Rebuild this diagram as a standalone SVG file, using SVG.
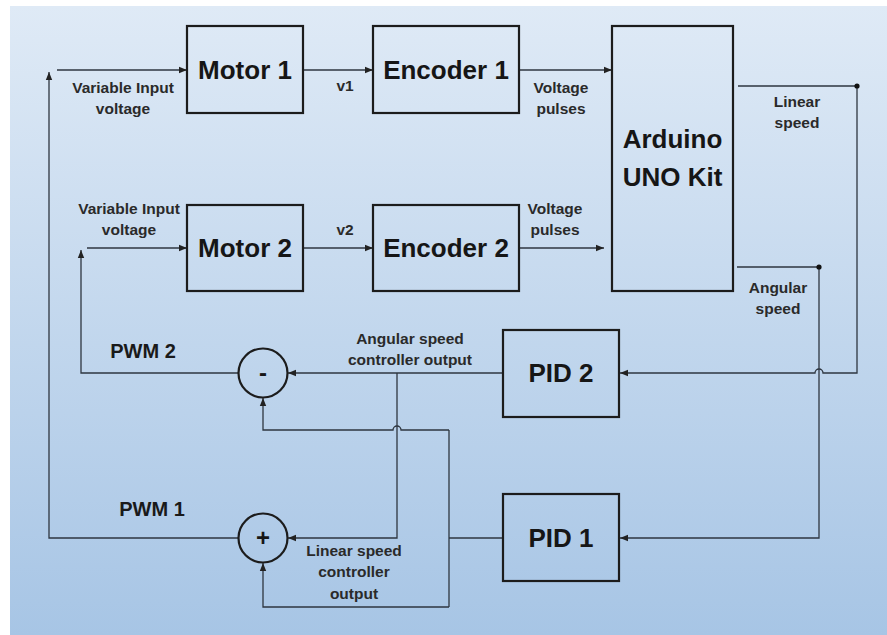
<svg xmlns="http://www.w3.org/2000/svg" width="887" height="635" viewBox="0 0 887 635">
<defs>
<linearGradient id="bg" x1="0" y1="0" x2="0" y2="1">
<stop offset="0" stop-color="#dfeaf6"/>
<stop offset="1" stop-color="#a7c5e5"/>
</linearGradient>
<marker id="ah" markerUnits="userSpaceOnUse" markerWidth="9" markerHeight="8" refX="8" refY="4" orient="auto">
<path d="M0,0.8 L8,4 L0,7.2 Z" fill="#222"/>
</marker>
<style>
.box{fill:none;stroke:#1c1c1c;stroke-width:2.2}
.ln{fill:none;stroke:#2e3640;stroke-width:1.3}
.big{font-family:"Liberation Sans",Arial,sans-serif;font-weight:bold;font-size:26px;fill:#161616;text-anchor:middle}
.lbl{font-family:"Liberation Sans",Arial,sans-serif;font-weight:bold;font-size:15.5px;fill:#2a2a2a;text-anchor:middle}
.pwm{font-family:"Liberation Sans",Arial,sans-serif;font-weight:bold;font-size:20px;fill:#1a1a1a;text-anchor:middle}
.dot{fill:#111}
</style>
</defs>
<rect x="10" y="6" width="877" height="629" fill="url(#bg)"/>

<g id="connectors">
<path class="ln" d="M239,538 H49 V72" marker-end="url(#ah)"/>
<path class="ln" d="M57,70 H187" marker-end="url(#ah)"/>
<path class="ln" d="M239,373 H81 V250" marker-end="url(#ah)"/>
<path class="ln" d="M87,248 H187" marker-end="url(#ah)"/>
<path class="ln" d="M303,70 H373" marker-end="url(#ah)"/>
<path class="ln" d="M303,248 H373" marker-end="url(#ah)"/>
<path class="ln" d="M519,70 H612" marker-end="url(#ah)"/>
<path class="ln" d="M519,248 H604" marker-end="url(#ah)"/>
<path class="ln" d="M738,86 H857 V373 H823 A4,4 0 0 0 815,373 H620" marker-end="url(#ah)"/>
<circle class="dot" cx="857" cy="86" r="2.6"/>
<path class="ln" d="M737,267 H819 V538 H620" marker-end="url(#ah)"/>
<circle class="dot" cx="819" cy="267" r="2.6"/>
<path class="ln" d="M503,373 H288" marker-end="url(#ah)"/>
<path class="ln" d="M397,373 V538 H288" marker-end="url(#ah)"/>
<path class="ln" d="M503,538 H449"/>
<path class="ln" d="M449,430 V607"/>
<path class="ln" d="M449,430 H401 A4,4 0 0 0 393,430 H263 V398" marker-end="url(#ah)"/>
<path class="ln" d="M449,607 H263 V563" marker-end="url(#ah)"/>
</g>

<g id="motor1"><rect class="box" x="187" y="26" width="116" height="87"/><text class="big" x="245" y="79">Motor 1</text></g>
<g id="encoder1"><rect class="box" x="373" y="26" width="146" height="87"/><text class="big" x="446" y="79">Encoder 1</text></g>
<g id="arduino"><rect class="box" x="612" y="26" width="121" height="265"/><text class="big" x="672.5" y="148">Arduino</text><text class="big" x="672.5" y="186">UNO Kit</text></g>
<g id="motor2"><rect class="box" x="187" y="205" width="116" height="86"/><text class="big" x="245" y="257">Motor 2</text></g>
<g id="encoder2"><rect class="box" x="373" y="205" width="146" height="86"/><text class="big" x="446" y="257">Encoder 2</text></g>
<g id="pid2"><rect class="box" x="503" y="330" width="116" height="87"/><text class="big" x="561" y="382">PID 2</text></g>
<g id="pid1"><rect class="box" x="503" y="494" width="116" height="87"/><text class="big" x="561" y="547">PID 1</text></g>
<g id="minus"><circle class="box" cx="263" cy="373" r="24.5"/><text class="big" x="263" y="381" style="font-size:24px">-</text></g>
<g id="plus"><circle class="box" cx="263" cy="538" r="24.5"/><text class="big" x="263" y="546" style="font-size:24px">+</text></g>

<g id="labels">
<text class="lbl" x="123" y="93">Variable Input</text>
<text class="lbl" x="123" y="114">voltage</text>
<text class="lbl" x="129" y="214">Variable Input</text>
<text class="lbl" x="129" y="235">voltage</text>
<text class="lbl" x="345" y="91">v1</text>
<text class="lbl" x="345" y="235">v2</text>
<text class="lbl" x="561" y="93">Voltage</text>
<text class="lbl" x="561" y="114">pulses</text>
<text class="lbl" x="555" y="214">Voltage</text>
<text class="lbl" x="555" y="235">pulses</text>
<text class="lbl" x="797" y="107">Linear</text>
<text class="lbl" x="797" y="128">speed</text>
<text class="lbl" x="778" y="293">Angular</text>
<text class="lbl" x="778" y="314">speed</text>
<text class="lbl" x="410" y="344">Angular speed</text>
<text class="lbl" x="410" y="365">controller output</text>
<text class="lbl" x="354" y="556">Linear speed</text>
<text class="lbl" x="354" y="577">controller</text>
<text class="lbl" x="354" y="599">output</text>
<text class="pwm" x="143" y="358">PWM 2</text>
<text class="pwm" x="152" y="516">PWM 1</text>
</g>
</svg>
